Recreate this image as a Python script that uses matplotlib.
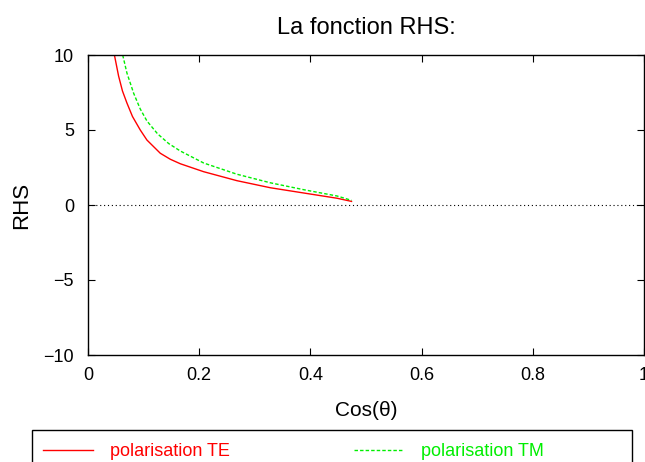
import matplotlib
matplotlib.use("Agg")
import matplotlib.pyplot as plt
from matplotlib.patches import Rectangle

plt.rcParams['font.family'] = ['Liberation Sans', 'DejaVu Sans']

# ---------------------------------------------------------
# data
# ---------------------------------------------------------
cos_te = [0.0475, 0.055, 0.062, 0.070, 0.080, 0.094, 0.106, 0.130, 0.148, 0.166,
          0.208, 0.268, 0.328, 0.388, 0.448, 0.474]
rhs_te = [10.0, 8.6, 7.6, 6.8, 5.9, 5.0, 4.33, 3.45, 3.05, 2.75,
          2.22, 1.62, 1.15, 0.80, 0.45, 0.24]

cos_tm = [0.0624, 0.070, 0.0822, 0.094, 0.106, 0.125, 0.145, 0.166, 0.208,
          0.268, 0.328, 0.388, 0.448, 0.474]
rhs_tm = [10.0, 8.8, 7.44, 6.4, 5.6, 4.75, 4.1, 3.6, 2.8,
          2.05, 1.48, 1.02, 0.6, 0.31]

xticks = [0, 0.2, 0.4, 0.6, 0.8, 1]
xlabels = ["0", "0.2", "0.4", "0.6", "0.8", "1"]
yticks = [-10, -5, 0, 5, 10]
ylabels = ["\u221210", "\u22125", "0", "5", "10"]

W, H = 645, 462
fig = plt.figure(figsize=(W / 100, H / 100), dpi=100)
ax = fig.add_axes([88 / W, 1 - 355 / H, (644 - 88) / W, 300 / H])

ax.axhline(0, color="black", lw=0.8, linestyle=(0, (1, 2.5)))
ax.plot(cos_te, rhs_te, color="#ff0000", lw=1.0, label="polarisation TE")
ax.plot(cos_tm, rhs_tm, color="#00ee00", lw=1.0, linestyle=(0, (2.5, 1.5)), label="polarisation TM")

ax.set_xlim(0, 1)
ax.set_ylim(-10, 10)
ax.set_xticks(xticks)
ax.set_xticklabels(xlabels)
ax.set_yticks(yticks)
ax.set_yticklabels(ylabels)
ax.tick_params(direction="in", length=5, width=0.8, labelsize=13, top=True, right=True)
ax.tick_params(axis="x", pad=9)
ax.tick_params(axis="y", pad=10)
for s in ax.spines.values():
    s.set_linewidth(1.0)

ax.set_title("La fonction RHS:", fontsize=17, pad=15)
ax.set_xlabel("Cos(\u03b8)", fontsize=15, labelpad=12)
ax.set_ylabel("RHS", fontsize=16, labelpad=8)

# legend box below the plot, cut at the bottom edge
fig.patches.append(Rectangle((32 / W, -0.05), 600 / W, 0.05 + 1 - 430 / H,
                             transform=fig.transFigure, fill=False,
                             edgecolor="black", lw=1.0))
fig.legend(loc="center left", bbox_to_anchor=(43 / W, 1 - 452 / H), ncol=2,
           frameon=False, fontsize=13, handlelength=2.77, handletextpad=0.94,
           columnspacing=6.87, borderpad=0, borderaxespad=0, labelcolor="linecolor")

fig.savefig("out.png", dpi=100)
